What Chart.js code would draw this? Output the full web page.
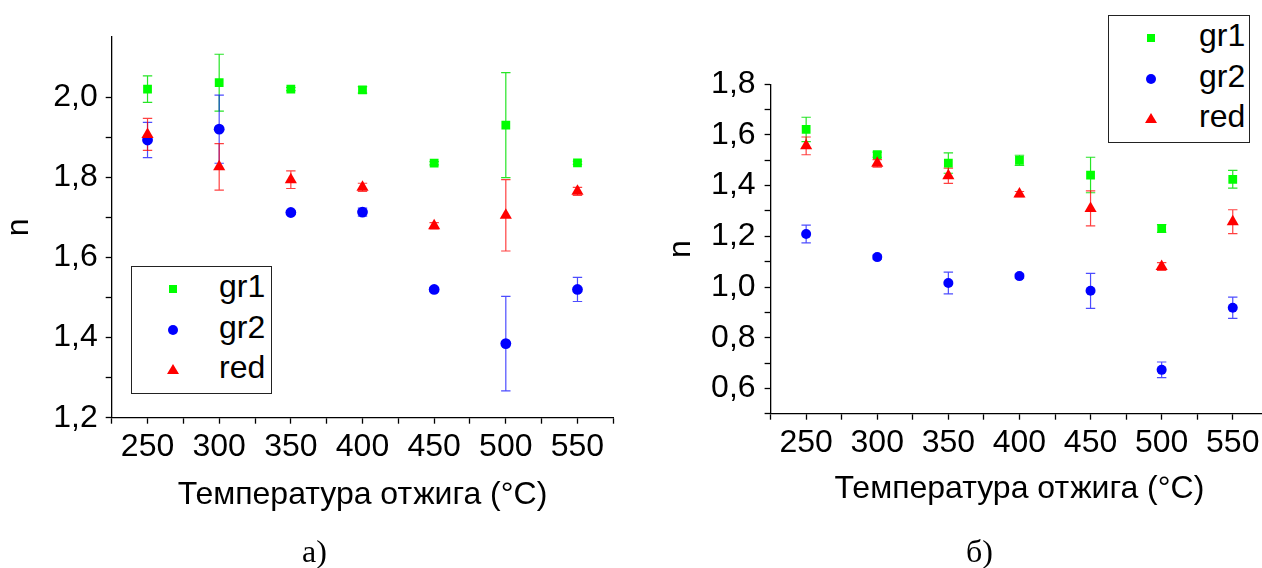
<!DOCTYPE html>
<html lang="ru">
  <head>
    <meta charset="UTF-8" />
    <script src="https://cdn.jsdelivr.net/npm/chart.js"></script>
    <title>n vs annealing temperature</title>
    <style>
      html, body { margin: 0; padding: 0; background: #fff; overflow: hidden; }
      body { width: 1262px; height: 568px; position: relative; font-family: "Liberation Sans", Arial, sans-serif; }
      canvas { position: absolute; top: 0; }
      .legend { position: absolute; border: 1px solid #222; background: #fff; box-sizing: border-box; }
      .row { position: absolute; left: 0; width: 100%; height: 40px; }
      .mk { position: absolute; top: 50%; }
      .sq { width: 8px; height: 8px; background: #00ff00; margin: -4px 0 0 -4px; }
      .ci { width: 10px; height: 10px; border-radius: 50%; background: #0000ff; margin: -5px 0 0 -5px; }
      .tr { width: 0; height: 0; border-left: 6px solid transparent; border-right: 6px solid transparent; border-bottom: 10px solid #ff0000; margin: -6px 0 0 -6px; }
      .lt { position: absolute; top: -3px; line-height: 40px; font-size: 32px; color: #000; }
      .cap { position: absolute; top: 535px; font-family: "Liberation Serif", "Times New Roman", serif; font-size: 32px; line-height: 32px; }
    </style>
  </head>
  <body>
    <canvas id="chartA" width="640" height="568" style="left:0"></canvas>
    <canvas id="chartB" width="640" height="568" style="left:640px"></canvas>

    <div class="legend" style="left:131px; top:266px; width:141px; height:128px">
      <div class="row" style="top:2px"><div class="mk sq" style="left:41px"></div><div class="lt" style="left:87px">gr1</div></div>
      <div class="row" style="top:43px"><div class="mk ci" style="left:41px"></div><div class="lt" style="left:87px">gr2</div></div>
      <div class="row" style="top:83px"><div class="mk tr" style="left:41px"></div><div class="lt" style="left:87px">red</div></div>
    </div>
    <div class="legend" style="left:1108px; top:15px; width:142px; height:128px">
      <div class="row" style="top:2px"><div class="mk sq" style="left:42px"></div><div class="lt" style="left:90px">gr1</div></div>
      <div class="row" style="top:43px"><div class="mk ci" style="left:42px"></div><div class="lt" style="left:90px">gr2</div></div>
      <div class="row" style="top:83px"><div class="mk tr" style="left:42px"></div><div class="lt" style="left:90px">red</div></div>
    </div>

    <div class="cap" style="left:302px">а)</div>
    <div class="cap" style="left:966px">б)</div>

    <script>
      // annealing temperatures, °C
      const temps = [250, 300, 350, 400, 450, 500, 550];

      // panel a)
      const gr1A = [2.02, 2.036, 2.02, 2.018, 1.835, 1.93, 1.836];
      const gr1AErr = [0.033, 0.071, 0.004, 0.008, 0.004, 0.131, 0.004];
      const gr2A = [1.893, 1.92, 1.712, 1.713, 1.52, 1.385, 1.52];
      const gr2AErr = [0.044, 0.085, 0.004, 0.01, 0.005, 0.118, 0.03];
      const redA = [1.907, 1.826, 1.794, 1.775, 1.679, 1.705, 1.765];
      const redAErr = [0.04, 0.058, 0.022, 0.01, 0.008, 0.089, 0.01];

      // panel б)
      const gr1B = [1.622, 1.522, 1.489, 1.5, 1.442, 1.231, 1.425];
      const gr1BErr = [0.048, 0.01, 0.04, 0.02, 0.07, 0.015, 0.035];
      const gr2B = [1.209, 1.118, 1.016, 1.043, 0.985, 0.673, 0.918];
      const gr2BErr = [0.035, 0.008, 0.043, 0.008, 0.069, 0.031, 0.042];
      const redB = [1.557, 1.488, 1.439, 1.367, 1.31, 1.081, 1.258];
      const redBErr = [0.035, 0.015, 0.03, 0.01, 0.069, 0.015, 0.047];

      const FONT = "'Liberation Sans', Arial, sans-serif";

      function pts(vals) {
        return temps.map((t, i) => ({ x: t, y: vals[i] }));
      }

      // vertical error bars with caps, drawn behind the markers
      const errorBars = {
        id: "errorBars",
        beforeDatasetsDraw(chart) {
          const { ctx, scales } = chart;
          ctx.save();
          chart.data.datasets.forEach((ds) => {
            ctx.strokeStyle = ds.errColor;
            ctx.lineWidth = 1.2;
            ds.data.forEach((p, i) => {
              const e = ds.errors[i];
              const px = scales.x.getPixelForValue(p.x);
              const top = scales.y.getPixelForValue(p.y + e);
              const bot = scales.y.getPixelForValue(p.y - e);
              ctx.beginPath();
              ctx.moveTo(px, top); ctx.lineTo(px, bot);
              ctx.moveTo(px - 4.7, top); ctx.lineTo(px + 4.7, top);
              ctx.moveTo(px - 4.7, bot); ctx.lineTo(px + 4.7, bot);
              ctx.stroke();
            });
          });
          ctx.restore();
        },
      };

      function makeChart(id, cfg) {
        const datasets = [
          { label: "gr1", data: pts(cfg.gr1), errors: cfg.gr1Err, errColor: "rgba(0,225,0,0.85)",
            pointStyle: "rect", pointRadius: 6.2, backgroundColor: "#00ff00", order: 3 },
          { label: "gr2", data: pts(cfg.gr2), errors: cfg.gr2Err, errColor: "rgba(0,0,255,0.7)",
            pointStyle: "circle", pointRadius: cfg.circle, backgroundColor: "#0000ff", order: 2 },
          { label: "red", data: pts(cfg.red), errors: cfg.redErr, errColor: "rgba(255,0,0,0.75)",
            pointStyle: "triangle", pointRadius: 7, backgroundColor: "#ff0000", order: 1 },
        ];
        datasets.forEach((d) => { d.borderWidth = 0; d.borderColor = d.backgroundColor; d.pointHoverRadius = d.pointRadius; });

        return new Chart(document.getElementById(id), {
          type: "scatter",
          data: { datasets },
          plugins: [errorBars],
          options: {
            responsive: false,
            animation: false,
            layout: { padding: { left: 0, top: cfg.top, right: cfg.right, bottom: 0 } },
            plugins: { legend: { display: false }, tooltip: { enabled: false } },
            scales: {
              x: {
                type: "linear", min: 225, max: 575,
                afterBuildTicks: (s) => { s.ticks = s.ticks.filter((t) => t.value % 25 === 0); },
                afterFit: (s) => { s.height = 568 - cfg.bottom; },
                border: { color: "#000", width: 1.3 },
                grid: { drawOnChartArea: false, tickLength: 6, tickColor: "#000", tickWidth: 1.3 },
                ticks: { stepSize: 25, padding: 4, maxRotation: 0, autoSkip: false, color: "#000",
                  font: { family: FONT, size: 32 },
                  callback: (v) => (v % 50 === 0 ? v : "") },
                title: { display: true, text: "Температура отжига (°C)", color: "#000",
                  font: { family: FONT, size: 32 }, padding: { top: 0, bottom: cfg.xTitlePad } },
              },
              y: {
                min: cfg.ymin, max: cfg.ymax,
                afterBuildTicks: (s) => {
                  s.ticks = s.ticks.filter((t) => Math.abs(t.value * 10 - Math.round(t.value * 10)) < 1e-6);
                },
                afterFit: (s) => { s.width = cfg.left; },
                border: { color: "#000", width: 1.3 },
                grid: { drawOnChartArea: false, tickLength: 6, tickColor: "#000", tickWidth: 1.3 },
                ticks: { stepSize: 0.1, padding: cfg.yPad, autoSkip: false, color: "#000",
                  font: { family: FONT, size: 32 },
                  callback: (v) => {
                    const k = Math.round(v * 10);
                    return k % 2 === 0 ? (k / 10).toFixed(1).replace(".", ",") : "";
                  } },
                title: { display: true, text: "n", color: "#000",
                  font: { family: FONT, size: 32 }, padding: { top: cfg.yTitlePad, bottom: 0 } },
              },
            },
          },
        });
      }

      makeChart("chartA", {
        gr1: gr1A, gr1Err: gr1AErr, gr2: gr2A, gr2Err: gr2AErr, red: redA, redErr: redAErr,
        ymin: 1.2, ymax: 2.15, circle: 5.4,
        left: 111.7, right: 26.7, top: 37, bottom: 417.7,
        yPad: 8, yTitlePad: 0, xTitlePad: 54,
      });

      makeChart("chartB", {
        gr1: gr1B, gr1Err: gr1BErr, gr2: gr2B, gr2Err: gr2BErr, red: redB, redErr: redBErr,
        ymin: 0.5, ymax: 1.8, circle: 5,
        left: 130.6, right: 11.7, top: 84.3, bottom: 413.7,
        yPad: 9, yTitlePad: 22, xTitlePad: 60,
      });
    </script>
  </body>
</html>
